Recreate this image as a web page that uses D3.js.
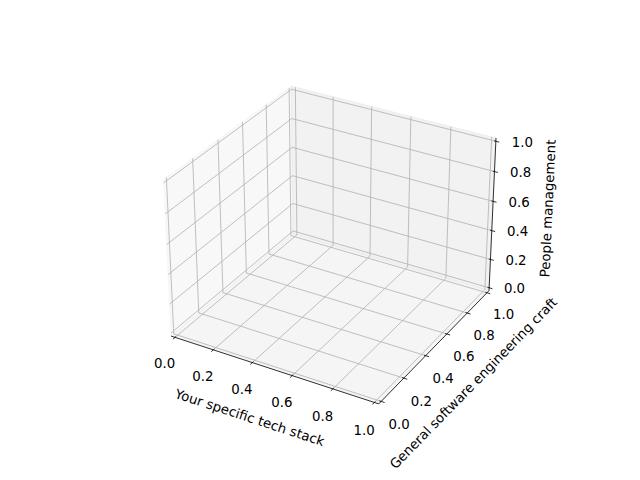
<!DOCTYPE html>
<head>
  <meta charset="utf-8">
  <script src="https://cdn.jsdelivr.net/npm/d3@7"></script>
  <style>
    body {
      margin:0;
      background:#fff;
    }
    text {
      font-family: "DejaVu Sans", sans-serif;
      font-size: 13.33px;
      fill: #000;
    }
  </style>
</head>

<body>
  <svg width="640" height="480"></svg>
  <script>
    // Tick values and axis titles.
    var xTicks = [0, 0.2, 0.4, 0.6, 0.8, 1.0];
    var yTicks = [0, 0.2, 0.4, 0.6, 0.8, 1.0];
    var zTicks = [0, 0.2, 0.4, 0.6, 0.8, 1.0];
    var xLabel = "Your specific tech stack";
    var yLabel = "General software engineering craft";
    var zLabel = "People management";

    // View settings (matplotlib defaults).
    var boxAspect = [4, 4, 3];
    var elev = 30, azim = -60, dist = 10;

    var svg = d3.select("svg");
    var fmt = d3.format(".1f");

    var norm = Math.hypot(boxAspect[0], boxAspect[1], boxAspect[2]);
    var box = boxAspect.map(function (a) { return a * 1.8294640721620434 / norm; });

    // data -> world box
    var wx = d3.scaleLinear().domain([0, 1]).range([0, box[0]]),
        wy = d3.scaleLinear().domain([0, 1]).range([0, box[1]]),
        wz = d3.scaleLinear().domain([0, 1]).range([0, box[2]]);

    // projected view plane -> pixels (square axes box)
    var side = 369.6, boxLeft = 80 + (496 - side) / 2, boxTop = 57.6;
    var sx = d3.scaleLinear().domain([-0.095, 0.09]).range([boxLeft, boxLeft + side]),
        sy = d3.scaleLinear().domain([-0.095, 0.09]).range([boxTop + side, boxTop]);

    var er = elev * Math.PI / 180, ar = azim * Math.PI / 180;
    var w = [Math.cos(er) * Math.cos(ar), Math.cos(er) * Math.sin(ar), Math.sin(er)];
    var un = Math.hypot(w[0], w[1]);
    var u = [-w[1] / un, w[0] / un, 0];
    var v = [w[1] * u[2] - w[2] * u[1], w[2] * u[0] - w[0] * u[2], w[0] * u[1] - w[1] * u[0]];

    function dot(a, b) { return a[0] * b[0] + a[1] * b[1] + a[2] * b[2]; }

    function project(pt) {
      var q = [wx(pt[0]) - box[0] / 2, wy(pt[1]) - box[1] / 2, wz(pt[2]) - box[2] / 2];
      var d = dist - dot(w, q);
      return [sx(dot(u, q) / d), sy(dot(v, q) / d)];
    }

    var line = d3.line().x(function (d) { return project(d)[0]; }).y(function (d) { return project(d)[1]; });

    var lo = -1 / 48, hi = 1 + 1 / 48, c = 0.5;
    var delta = 1 / 12;

    // panes
    var panes = [
      { pts: [[lo, lo, lo], [lo, hi, lo], [lo, hi, hi], [lo, lo, hi]], col: "rgba(242,242,242,0.5)" },
      { pts: [[lo, hi, lo], [hi, hi, lo], [hi, hi, hi], [lo, hi, hi]], col: "rgba(230,230,230,0.5)" },
      { pts: [[lo, lo, lo], [hi, lo, lo], [hi, hi, lo], [lo, hi, lo]], col: "rgba(236,236,236,0.5)" }
    ];
    svg.selectAll("path.pane").data(panes).enter().append("path")
      .attr("class", "pane")
      .attr("d", function (d) { return line(d.pts) + "Z"; })
      .attr("fill", function (d) { return d.col; })
      .attr("stroke", function (d) { return d.col; })
      .attr("stroke-width", 1);

    // grid lines
    var grid = [];
    xTicks.forEach(function (t) { grid.push([[t, lo, lo], [t, hi, lo], [t, hi, hi]]); });
    yTicks.forEach(function (t) { grid.push([[lo, t, hi], [lo, t, lo], [hi, t, lo]]); });
    zTicks.forEach(function (t) { grid.push([[hi, hi, t], [lo, hi, t], [lo, lo, t]]); });
    svg.selectAll("path.grid").data(grid).enter().append("path")
      .attr("class", "grid")
      .attr("d", line)
      .attr("fill", "none")
      .attr("stroke", "#b0b0b0")
      .attr("stroke-width", 0.8);

    // axes: edge, tick direction, label side
    var axes = [
      { i: 0, ticks: xTicks, label: xLabel, p1: [lo, lo, lo], p2: [hi, lo, lo], tdir: 1 },
      { i: 1, ticks: yTicks, label: yLabel, p1: [hi, hi, lo], p2: [hi, lo, lo], tdir: 0 },
      { i: 2, ticks: zTicks, label: zLabel, p1: [hi, hi, lo], p2: [hi, hi, hi], tdir: 0 }
    ];

    var pointsPerAxes = 72 * (side / 100) * 2;
    var perPoint = 48 / pointsPerAxes;
    var tickLabDelta = (3.5 + 8) * perPoint * delta;
    var axLabDelta = (4 + 21) * perPoint * delta;

    function moveOut(pt, i, amount) {
      return pt.map(function (val, k) {
        if (k === i) return val;
        return val + (val > c ? 1 : -1) * amount;
      });
    }

    axes.forEach(function (ax) {
      var g = svg.append("g");
      g.append("path")
        .attr("d", line([ax.p1, ax.p2]))
        .attr("stroke", "#000")
        .attr("stroke-width", 0.8)
        .attr("fill", "none");

      var edge = ax.p1[ax.tdir];
      var outSign = edge > c ? 1 : -1;

      ax.ticks.forEach(function (t) {
        var a = ax.p1.slice(), b = ax.p1.slice();
        a[ax.i] = t; b[ax.i] = t;
        a[ax.tdir] = edge + outSign * 0.2 * delta;
        b[ax.tdir] = edge - outSign * 0.1 * delta;
        g.append("path")
          .attr("d", line([a, b]))
          .attr("stroke", "#000")
          .attr("stroke-width", 0.8);

        var lp = ax.p1.slice();
        lp[ax.i] = t;
        var s = project(moveOut(lp, ax.i, tickLabDelta));
        g.append("text")
          .attr("x", s[0]).attr("y", s[1])
          .attr("dy", "0.68em")
          .attr("text-anchor", "middle")
          .text(fmt(t));
      });

      var e1 = project(ax.p1), e2 = project(ax.p2);
      var ang = Math.atan2(-(e2[1] - e1[1]), e2[0] - e1[0]) * 180 / Math.PI;
      if (ang > 90) ang -= 180;
      if (ang < -90) ang += 180;
      var mid = ax.p1.map(function (val, k) { return (val + ax.p2[k]) / 2; });
      var ls = project(moveOut(mid, ax.i, axLabDelta));
      g.append("text")
        .attr("transform", "translate(" + ls[0] + "," + ls[1] + ") rotate(" + (-ang) + ")")
        .attr("dy", "0.3em")
        .attr("text-anchor", "middle")
        .text(ax.label);
    });
  </script>
</body>
